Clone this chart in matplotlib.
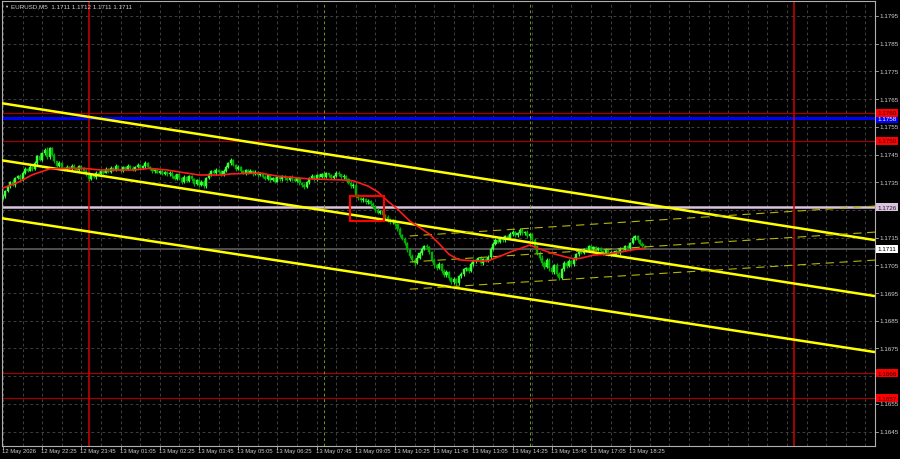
import matplotlib
matplotlib.use('Agg')
import matplotlib.pyplot as plt
import matplotlib.transforms as mtransforms
from matplotlib.patches import Rectangle

plt.rcParams['font.family'] = ['Liberation Sans', 'DejaVu Sans']
plt.rcParams['lines.scale_dashes'] = False

# EURUSD M5 closes, bar 0 = 12 May 21:05
first_open = 1.17295
closes = [
    1.17300, 1.17318, 1.17335, 1.17352, 1.17340, 1.17365, 1.17372, 1.17360, 1.17385, 1.17398,
    1.17392, 1.17405, 1.17398, 1.17420, 1.17445, 1.17430, 1.17455, 1.17468, 1.17440, 1.17472,
    1.17450, 1.17425, 1.17410, 1.17418, 1.17402, 1.17395, 1.17405, 1.17398, 1.17410, 1.17402,
    1.17395, 1.17408, 1.17400, 1.17392, 1.17380, 1.17362, 1.17375, 1.17368, 1.17385, 1.17378,
    1.17392, 1.17385, 1.17398, 1.17388, 1.17402, 1.17395, 1.17408, 1.17398, 1.17392, 1.17405,
    1.17398, 1.17410, 1.17402, 1.17395, 1.17405, 1.17412, 1.17400, 1.17408, 1.17420, 1.17405,
    1.17398, 1.17390, 1.17395, 1.17385, 1.17392, 1.17380, 1.17388, 1.17378, 1.17385, 1.17372,
    1.17362, 1.17378, 1.17365, 1.17350, 1.17368, 1.17355, 1.17372, 1.17360, 1.17345, 1.17358,
    1.17340, 1.17352, 1.17335, 1.17365, 1.17378, 1.17390, 1.17382, 1.17395, 1.17388, 1.17376,
    1.17392, 1.17405, 1.17418, 1.17430, 1.17412, 1.17398, 1.17405, 1.17390, 1.17382, 1.17395,
    1.17385, 1.17392, 1.17380, 1.17388, 1.17375, 1.17382, 1.17370, 1.17362, 1.17375, 1.17358,
    1.17365, 1.17352, 1.17368, 1.17360, 1.17372, 1.17365, 1.17358, 1.17370, 1.17362, 1.17355,
    1.17365, 1.17348, 1.17340, 1.17332, 1.17350, 1.17365, 1.17372, 1.17360, 1.17375, 1.17368,
    1.17378, 1.17370, 1.17382, 1.17375, 1.17365, 1.17372, 1.17385, 1.17378, 1.17368, 1.17372,
    1.17360, 1.17348, 1.17335, 1.17340, 1.17300, 1.17292, 1.17285, 1.17290, 1.17278, 1.17282,
    1.17270, 1.17262, 1.17250, 1.17240, 1.17245, 1.17232, 1.17225, 1.17215, 1.17205, 1.17212,
    1.17198, 1.17180, 1.17160, 1.17145, 1.17130, 1.17105, 1.17085, 1.17070, 1.17060, 1.17078,
    1.17095, 1.17110, 1.17120, 1.17115, 1.17098, 1.17070, 1.17050, 1.17040, 1.17055, 1.17030,
    1.17015, 1.17025, 1.17005, 1.16990, 1.17000, 1.16985, 1.17010, 1.17020, 1.17035, 1.17040,
    1.17030, 1.17055, 1.17065, 1.17070, 1.17075, 1.17060, 1.17072, 1.17068, 1.17080, 1.17110,
    1.17128, 1.17142, 1.17135, 1.17148, 1.17140, 1.17155, 1.17150, 1.17162, 1.17170, 1.17158,
    1.17165, 1.17178, 1.17165, 1.17170, 1.17155, 1.17162, 1.17140, 1.17120, 1.17095, 1.17078,
    1.17060, 1.17045, 1.17070, 1.17040, 1.17025, 1.17050, 1.17020, 1.17005, 1.17035, 1.17060,
    1.17048, 1.17065, 1.17055, 1.17075, 1.17090, 1.17102, 1.17095, 1.17110, 1.17105, 1.17118,
    1.17108, 1.17115, 1.17105, 1.17112, 1.17100, 1.17092, 1.17105, 1.17090, 1.17098, 1.17088,
    1.17100, 1.17095, 1.17110, 1.17105, 1.17118, 1.17112, 1.17130, 1.17148, 1.17155, 1.17142,
    1.17128, 1.17120, 1.17112,
]
# wick lengths above / below the body, in points (0.00001)
up_wick = [
    5, 3, 6, 4, 8, 3, 5, 7, 4, 6,   3, 8, 5, 6, 4, 9, 5, 7, 10, 5,
    6, 4, 3, 7, 5, 4, 6, 3, 5, 4,   4, 5, 3, 6, 4, 7, 3, 5, 4, 6,
    5, 3, 6, 4, 5, 3, 7, 4, 5, 3,   4, 6, 3, 5, 4, 7, 5, 3, 6, 4,
    5, 3, 4, 6, 3, 5, 4, 3, 6, 4,   6, 3, 5, 4, 7, 3, 5, 4, 6, 3,
    4, 5, 6, 3, 5, 4, 6, 5, 3, 7,   5, 6, 4, 8, 5, 3, 6, 4, 5, 3,
    4, 5, 3, 6, 4, 5, 3, 6, 4, 5,   3, 5, 4, 6, 3, 5, 4, 3, 5, 4,
    5, 3, 4, 6, 5, 4, 6, 3, 5, 4,   6, 4, 5, 3, 6, 4, 7, 5, 3, 6,
    4, 5, 6, 8, 10, 6, 5, 7, 4, 6,  5, 7, 4, 6, 5, 8, 4, 6, 5, 7,
    6, 5, 7, 4, 6, 5, 8, 6, 5, 9,   7, 6, 5, 8, 6, 5, 7, 6, 8, 5,
    6, 7, 5, 4, 8, 6, 5, 7, 6, 5,   5, 6, 7, 4, 5, 8, 6, 5, 7, 6,
    5, 7, 6, 4, 8, 5, 6, 7, 9, 5,   6, 5, 8, 4, 7, 5, 6, 8, 5, 7,
    8, 6, 5, 7, 9, 6, 8, 5, 7, 6,   5, 7, 6, 4, 6, 5, 7, 4, 6, 5,
    5, 4, 6, 3, 5, 4, 6, 5, 3, 5,   4, 6, 5, 3, 5, 6, 4, 7, 5, 6,
    4, 5, 3,
]
dn_wick = [
    4, 6, 3, 5, 4, 7, 3, 5, 6, 4,   5, 3, 6, 4, 7, 5, 4, 6, 5, 8,
    5, 7, 4, 6, 3, 5, 4, 6, 3, 5,   6, 4, 5, 3, 7, 9, 5, 4, 6, 3,
    4, 6, 3, 5, 4, 6, 3, 5, 4, 6,   5, 3, 6, 4, 5, 3, 6, 4, 5, 3,
    4, 6, 5, 3, 6, 4, 5, 6, 4, 5,   5, 4, 6, 7, 3, 6, 4, 5, 7, 4,
    6, 4, 7, 5, 3, 6, 4, 5, 6, 3,   4, 5, 3, 6, 4, 6, 3, 5, 4, 6,
    5, 3, 6, 4, 5, 3, 6, 4, 5, 6,   4, 6, 3, 5, 4, 6, 5, 4, 6, 3,
    5, 7, 6, 8, 4, 5, 3, 6, 4, 5,   4, 5, 3, 6, 4, 5, 3, 4, 6, 5,
    5, 6, 7, 5, 8, 6, 7, 5, 6, 5,   6, 5, 7, 6, 5, 7, 6, 8, 5, 6,
    7, 6, 8, 5, 7, 6, 8, 7, 12, 6,  6, 7, 5, 6, 8, 7, 9, 6, 5, 8,
    7, 6, 8, 9, 6, 8, 5, 6, 7, 5,   6, 5, 7, 5, 6, 5, 7, 6, 5, 6,
    5, 6, 4, 5, 6, 5, 4, 6, 5, 7,   5, 6, 4, 7, 5, 6, 7, 8, 6, 7,
    7, 8, 6, 9, 7, 6, 10, 8, 6, 7,  6, 5, 7, 6, 5, 6, 4, 5, 6, 5,
    5, 6, 4, 5, 6, 5, 4, 6, 5, 6,   5, 4, 6, 5, 4, 5, 6, 4, 5, 6,
    5, 4, 3,
]

# red moving average, read at these bars
ma_bars = [0, 6, 12, 19, 26, 33, 40, 53, 60, 67, 72, 80, 89, 93, 105, 112, 125, 139,
           143, 149, 153, 157, 161, 166, 171, 174, 178, 182, 186, 192, 198, 202, 207,
           215, 219, 225, 233, 236, 241, 247, 252, 259, 262]
ma_vals = [1.17329, 1.17349, 1.17377, 1.17398, 1.17400, 1.17400, 1.17394, 1.17394,
           1.17400, 1.17394, 1.17387, 1.17376, 1.17376, 1.17380, 1.17383, 1.17372,
           1.17362, 1.17358, 1.17355, 1.17336, 1.17315, 1.17282, 1.17253, 1.17210,
           1.17181, 1.17163, 1.17128, 1.17090, 1.17070, 1.17066, 1.17066, 1.17080,
           1.17098, 1.17123, 1.17109, 1.17091, 1.17073, 1.17076, 1.17087, 1.17091,
           1.17098, 1.17109, 1.17112]

# trend channel (bar, price) anchors
trend_bars = [-1.2, 355.9]
trend_upper = [1.17636, 1.17141]
trend_mid = [1.17430, 1.16939]
trend_lower = [1.17221, 1.16737]
dash_bars = [166.0, 355.9]
dash_upper = [1.17156, 1.17264]
dash_mid = [1.17062, 1.17170]
dash_lower = [1.16964, 1.17069]

red_levels = [1.1760, 1.1750, 1.1666, 1.1657]
blue_level = 1.1758
white_level = 1.1726
bid_level = 1.1711
day_bars = [35, 323]
session_bars = [131, 215]
box_bars = [141.6, 155.5]
box_prices = [1.17210, 1.17300]

x_labels = ['12 May 2026', '12 May 22:25', '12 May 23:45', '13 May 01:05', '13 May 02:25',
            '13 May 03:45', '13 May 05:05', '13 May 06:25', '13 May 07:45', '13 May 09:05',
            '13 May 10:25', '13 May 11:45', '13 May 13:05', '13 May 14:25', '13 May 15:45',
            '13 May 17:05', '13 May 18:25']
price_ticks = [1.1795, 1.1785, 1.1775, 1.1765, 1.1755, 1.1745, 1.1735, 1.1725,
               1.1715, 1.1705, 1.1695, 1.1685, 1.1675, 1.1665, 1.1655, 1.1645]
# tick labels hidden behind the level tags
hidden_ticks = [1.1725, 1.1665]

fg = '#d0d0d0'
fs = 4.5
fs_x = 4.2

fig = plt.figure(figsize=(9, 4.6), dpi=100, facecolor='black')
ax = fig.add_axes([2 / 900, 13 / 460, 873 / 900, 445 / 460], facecolor='black')
ax.set_xlim(-0.41, 355.9)
ax.set_ylim(1.16398, 1.18004)
for s in ax.spines.values():
    s.set_color('#b0b0b0')
    s.set_linewidth(0.8)
ax.set_xticks([])
ax.set_yticks([])

# grid
grid_x = list(range(0, 356, 8))
ax.vlines(grid_x, 1.16398, 1.18004, colors='#4a4a4a', linestyles=(0, (2, 2)), lw=0.6, zorder=0)
ax.hlines(price_ticks, -0.41, 355.9, colors='#4a4a4a', linestyles=(0, (2, 2)), lw=0.6, zorder=0)

# candles
opens = [first_open] + closes[:-1]
idx = list(range(len(closes)))
for i, o, c, uw, dw in zip(idx, opens, closes, up_wick, dn_wick):
    col = '#3cff3c' if c >= o else '#00b000'
    hi = max(o, c) + uw * 1e-5
    lo = min(o, c) - dw * 1e-5
    ax.vlines(i, lo, hi, colors=col, lw=0.8, zorder=3)
    ax.bar(i, abs(c - o), bottom=min(o, c), width=0.85, color=col,
           edgecolor=col, lw=0.3, zorder=3)

# horizontal levels
for lv in red_levels:
    ax.axhline(lv, color='#a00000', lw=0.9, zorder=1)
ax.axhline(blue_level, color='#0000ff', lw=2.2, zorder=1)
ax.axhline(white_level, color='#d8c4dc', lw=1.8, zorder=1)
ax.axhline(bid_level, color='#505050', lw=1.4, zorder=1)

# vertical lines
for b in day_bars:
    ax.axvline(b, color='#d00000', lw=1.1, zorder=1)
for b in session_bars:
    ax.axvline(b, color='#6f9a1a', lw=0.7, ls=(0, (2, 2)), zorder=1)

# channels
for tr in [trend_upper, trend_mid, trend_lower]:
    ax.plot(trend_bars, tr, color='#ffff00', lw=1.8, zorder=4, solid_capstyle='butt')
for tr in [dash_upper, dash_mid, dash_lower]:
    ax.plot(dash_bars, tr, color='#b5b500', lw=0.8, ls=(0, (6, 4)), zorder=4)

# moving average
ax.plot(ma_bars, ma_vals, color='#ff1a1a', lw=1.2, zorder=5)

ax.add_patch(Rectangle((box_bars[0], box_prices[0]), box_bars[1] - box_bars[0],
                       box_prices[1] - box_prices[0], fill=False, ec='#ff0000', lw=1.5, zorder=6))

# time axis labels
for k, lab in enumerate(x_labels):
    b = k * 16
    ax.plot([b, b], [1.16398, 1.16398 - 0.00010], color='#b0b0b0', lw=0.6, clip_on=False)
    ax.text(b - 0.4, 1.16398 - 0.00008, lab, fontsize=fs_x, color=fg, ha='left', va='top',
            clip_on=False)

# price axis labels
tr_r = mtransforms.blended_transform_factory(fig.transFigure, ax.transData)
for p in price_ticks:
    ax.plot([875 / 900, 878 / 900], [p, p], color='#b0b0b0', lw=0.6, transform=tr_r,
            clip_on=False)
    if p in hidden_ticks:
        continue
    ax.text(879 / 900, p, '%.4f' % p, fontsize=fs, color=fg, ha='left', va='center',
            transform=tr_r, clip_on=False)


def tag(p, fc, tc, z):
    ax.text(877.5 / 900, p, '%.4f' % p, fontsize=fs, color=tc, ha='left', va='center',
            transform=tr_r, clip_on=False, zorder=z,
            bbox=dict(boxstyle='square,pad=0.25', fc=fc, ec='none'))


tag(blue_level, '#0000ff', '#ffffff', 10)
for lv in red_levels:
    tag(lv, '#ff0000', '#2a0000', 11)
tag(white_level, '#d8c4dc', '#301030', 11)
tag(bid_level, '#ffffff', '#000000', 11)

# header
fig.text(4 / 900, 1 - 7 / 460, '\u25bc', fontsize=3, color=fg, va='center')
fig.text(11 / 900, 1 - 7 / 460, 'EURUSD,M5  1.1711 1.1712 1.1711 1.1711', fontsize=fs,
         color=fg, va='center')

fig.savefig('out.png', dpi=100, facecolor='black')
